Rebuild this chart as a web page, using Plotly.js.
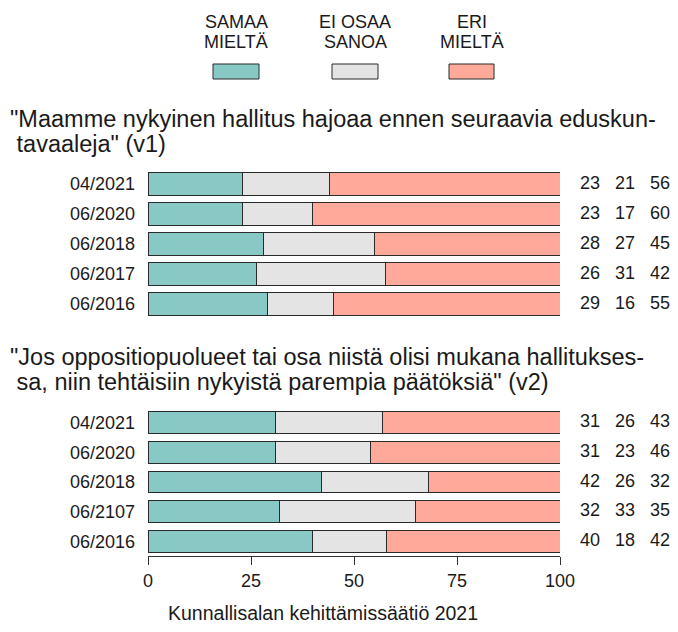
<!DOCTYPE html>
<html>
<head>
<meta charset="utf-8">
<script src="https://cdn.plot.ly/plotly-3.0.1.min.js"></script>
<style>html,body{margin:0;padding:0;background:#fff;}#chart{width:678px;height:632px;}</style>
</head>
<body>
<div id="chart"></div>
<script>
// ---- data ----
var seriesNames = ["SAMAA MIELTÄ", "EI OSAA SANOA", "ERI MIELTÄ"];
var legendLine1 = ["SAMAA", "EI OSAA", "ERI"];
var legendLine2 = ["MIELTÄ", "SANOA", "MIELTÄ"];
var colors = ["#88C9C5", "#E4E4E4", "#FEA99A"];

var cats1 = ["04/2021", "06/2020", "06/2018", "06/2017", "06/2016"];
var agree1 = [23, 23, 28, 26.3, 29];
var dunno1 = [21, 17, 27, 31.3, 16];
var disagree1 = [56, 60, 45, 42.4, 55];

var cats2 = ["04/2021", "06/2020", "06/2018", "06/2107", "06/2016"];
var agree2 = [31, 31, 42, 32, 40];
var dunno2 = [26, 23, 26, 33, 18];
var disagree2 = [43, 46, 32, 35, 42];

var title1 = ['"Maamme nykyinen hallitus hajoaa ennen seuraavia eduskun-', ' tavaaleja" (v1)'];
var title2 = ['"Jos oppositiopuolueet tai osa niistä olisi mukana hallitukses-', ' sa, niin tehtäisiin nykyistä parempia päätöksiä" (v2)'];
var caption = "Kunnallisalan kehittämissäätiö 2021";
var xTicks = [0, 25, 50, 75, 100];
var valueCols = [1, 2, 3];

// ---- helpers (pixel -> paper) ----
var W = 678, H = 632;
function px(x) { return x / W; }
function py(y) { return 1 - y / H; }
var FONT = "Liberation Sans, Arial, sans-serif";
var TXT = "#1a1a1a";

var traces = [];
var groups = [
  {cats: cats1, vals: [agree1, dunno1, disagree1], yax: "y2"},
  {cats: cats2, vals: [agree2, dunno2, disagree2], yax: "y"}
];
groups.forEach(function (g) {
  g.vals.forEach(function (v, i) {
    traces.push({
      type: "bar", orientation: "h", x: v, y: g.cats, name: seriesNames[i],
      xaxis: "x", yaxis: g.yax, width: 0.74,
      marker: {color: colors[i], line: {color: "#2a2a2a", width: 1}},
      hoverinfo: "x+y", showlegend: false
    });
  });
  // value labels (rounded percentages)
  g.vals.forEach(function (v, i) {
    traces.push({
      type: "scatter", mode: "text", x: g.cats.map(function () { return valueCols[i]; }),
      y: g.cats, text: v.map(function (d) { return String(Math.round(d)); }),
      xaxis: "x2", yaxis: g.yax,
      textfont: {family: FONT, size: 18, color: TXT}, textposition: "middle center",
      hoverinfo: "skip", showlegend: false, cliponaxis: false
    });
  });
});

var annotations = [];
function addText(t, x, y, size, anchor) {
  annotations.push({text: t, xref: "paper", yref: "paper", x: px(x), y: py(y),
    xanchor: anchor || "left", yanchor: "middle", showarrow: false,
    font: {family: FONT, size: size, color: TXT}});
}
addText(title1[0], 8, 119, 23.5);
addText("\u00a0" + title1[1].trim(), 8, 144, 23.5);
addText(title2[0], 8, 357, 23.5);
addText("\u00a0" + title2[1].trim(), 8, 382, 23.5);
var legX = [236, 355, 472];
legX.forEach(function (x, i) {
  addText(legendLine1[i], x, 22, 18, "center");
  addText(legendLine2[i], x, 42, 18, "center");
});
addText(caption, 323, 613, 19.5, "center");

var shapes = [];
var boxL = [213, 332, 449], boxR = [259, 378, 494];
colors.forEach(function (c, i) {
  shapes.push({type: "rect", xref: "paper", yref: "paper",
    x0: px(boxL[i]), x1: px(boxR[i]), y0: py(79), y1: py(64),
    fillcolor: c, line: {color: "#2a2a2a", width: 1}});
});

var layout = {
  width: W, height: H, margin: {l: 0, r: 0, t: 0, b: 0},
  paper_bgcolor: "#fff", plot_bgcolor: "rgba(0,0,0,0)",
  barmode: "stack", showlegend: false,
  font: {family: FONT, color: TXT},
  xaxis: {domain: [px(148), px(560)], range: [0, 100], anchor: "y", fixedrange: true,
    tickvals: xTicks, ticks: "outside", ticklen: 8, tickcolor: "#333", tickwidth: 1,
    showline: true, linecolor: "#333", linewidth: 1, showgrid: false, zeroline: false,
    tickfont: {family: FONT, size: 18, color: TXT}},
  xaxis2: {domain: [px(560), 1], range: [1 - 30 / 35, 1 - 30 / 35 + 118 / 35], anchor: "y", visible: false, fixedrange: true},
  yaxis: {domain: [py(556), py(408)], type: "category", categoryarray: cats2,
    range: [4.5, -0.5], anchor: "x", ticks: "", showline: false, showgrid: false, zeroline: false,
    ticklabelstandoff: 12, tickfont: {family: FONT, size: 18, color: TXT}},
  yaxis2: {domain: [py(319), py(169)], type: "category", categoryarray: cats1,
    range: [4.5, -0.5], anchor: "x", ticks: "", showline: false, showgrid: false, zeroline: false,
    ticklabelstandoff: 12, tickfont: {family: FONT, size: 18, color: TXT}},
  annotations: annotations, shapes: shapes
};

Plotly.newPlot("chart", traces, layout, {displayModeBar: false, staticPlot: true});
</script>
</body>
</html>
